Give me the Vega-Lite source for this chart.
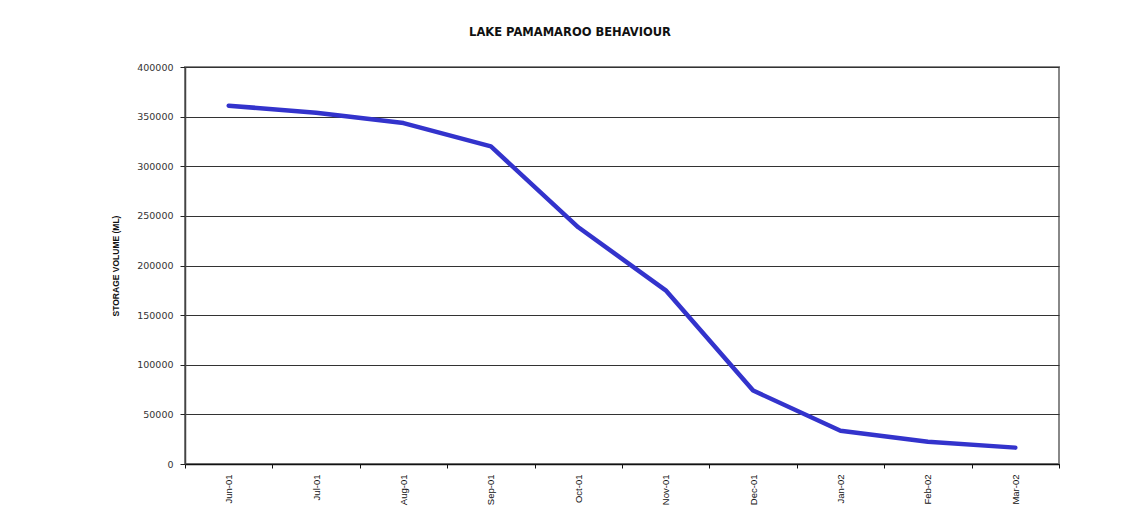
{
  "$schema": "https://vega.github.io/schema/vega-lite/v6.json",
  "autosize": {"type": "none"},
  "width": 874,
  "height": 397,
  "padding": {"left": 185, "top": 67, "right": 69, "bottom": 61},
  "background": "white",
  "title": {
    "text": "LAKE PAMAMAROO BEHAVIOUR",
    "font": "DejaVu Sans",
    "fontSize": 11.5,
    "fontWeight": "bold",
    "color": "#111111",
    "anchor": "middle",
    "offset": 24,
    "dx": -52
  },
  "data": {
    "values": [
      {"month": "Jun-01", "volume": 361000},
      {"month": "Jul-01", "volume": 354000},
      {"month": "Aug-01", "volume": 343500},
      {"month": "Sep-01", "volume": 320000},
      {"month": "Oct-01", "volume": 238500},
      {"month": "Nov-01", "volume": 175000},
      {"month": "Dec-01", "volume": 74000},
      {"month": "Jan-02", "volume": 33500},
      {"month": "Feb-02", "volume": 22500},
      {"month": "Mar-02", "volume": 16500}
    ]
  },
  "mark": {"type": "line", "color": "#3333CC", "strokeWidth": 4.5, "strokeCap": "round", "strokeJoin": "round"},
  "encoding": {
    "x": {
      "field": "month",
      "type": "ordinal",
      "sort": null,
      "bandPosition": 0.5,
      "scale": {"type": "band", "paddingInner": 0, "paddingOuter": 0},
      "axis": {
        "title": null,
        "labelAngle": -90,
        "labelFont": "Liberation Sans",
        "labelFontSize": 9.5,
        "labelColor": "#111111",
        "labelPadding": 6,
        "tickBand": "extent",
        "tickSize": 4,
        "tickColor": "#111111",
        "domainColor": "#111111",
        "domainWidth": 1.5,
        "grid": false
      }
    },
    "y": {
      "field": "volume",
      "type": "quantitative",
      "scale": {"domain": [0, 400000]},
      "axis": {
        "title": "STORAGE VOLUME (ML)",
        "titleFont": "Liberation Sans",
        "titleFontSize": 8.5,
        "titleFontWeight": "bold",
        "titleColor": "#111111",
        "titlePadding": 16,
        "values": [0, 50000, 100000, 150000, 200000, 250000, 300000, 350000, 400000],
        "format": "d",
        "labelFont": "DejaVu Sans",
        "labelFontSize": 9.5,
        "labelColor": "#333333",
        "labelPadding": 7,
        "tickSize": 5,
        "tickColor": "#222222",
        "domainColor": "#444444",
        "domainWidth": 1.5,
        "grid": true,
        "gridColor": "#333333",
        "gridWidth": 1,
        "gridOpacity": 1
      }
    }
  },
  "config": {
    "view": {"stroke": "#888888", "strokeWidth": 2},
    "axis": {"labelFlush": false}
  }
}
